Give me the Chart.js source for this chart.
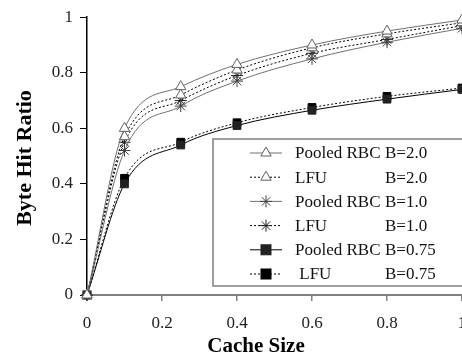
<!DOCTYPE html>
<html><head><meta charset="utf-8">
<script src="https://cdn.jsdelivr.net/npm/chart.js@4/dist/chart.umd.min.js"></script>
<style>
html,body{margin:0;padding:0;background:#fff;overflow:hidden;width:462px;height:356px;}
#wrap{position:absolute;left:0;top:0;width:480px;height:356px;}
</style></head>
<body><div id="wrap"><canvas id="c" width="480" height="356"></canvas></div>
<script>
const cacheSizes = [0, 0.1, 0.25, 0.4, 0.6, 0.8, 1.0];
const rbc20 = [0, 0.60, 0.75, 0.83, 0.90, 0.95, 0.99];
const lfu20 = [0, 0.57, 0.72, 0.81, 0.89, 0.94, 0.98];
const rbc10 = [0, 0.52, 0.68, 0.77, 0.85, 0.91, 0.96];
const lfu10 = [0, 0.55, 0.70, 0.79, 0.87, 0.92, 0.97];
const rbc075 = [0, 0.40, 0.54, 0.61, 0.665, 0.705, 0.74];
const lfu075 = [0, 0.42, 0.55, 0.62, 0.675, 0.715, 0.745];
const seriesNames = ['Pooled RBC', 'LFU', 'Pooled RBC', 'LFU', 'Pooled RBC', ' LFU'];
const seriesB = ['B=2.0', 'B=2.0', 'B=1.0', 'B=1.0', 'B=0.75', 'B=0.75'];
const xTicks = [0, 0.2, 0.4, 0.6, 0.8, 1];
const yTicks = [0, 0.2, 0.4, 0.6, 0.8, 1];
const xTitle = 'Cache Size';
const yTitle = 'Byte Hit Ratio';

const seriesValues = [rbc20, lfu20, rbc10, lfu10, rbc075, lfu075];
const styles = [
  {c:'#707070', dash:[], m:'tri', mc:'#606060', fill:'#fff'},
  {c:'#000', dash:[2,2], m:'tri', mc:'#606060', fill:'#fff'},
  {c:'#707070', dash:[], m:'star', mc:'#404040', fill:'#fff'},
  {c:'#000', dash:[2,2], m:'star', mc:'#202020', fill:'#fff'},
  {c:'#000', dash:[], m:'sq', mc:'#222', fill:'#222'},
  {c:'#000', dash:[2,2], m:'sq', mc:'#000', fill:'#000'}
];
const psMap = {tri:'triangle', star:'star', sq:'rect'};
const radMap = {tri:6, star:6, sq:5.5};
const SERIF = '"Liberation Serif", "Times New Roman", serif';

const datasets = seriesValues.map((vals, i) => ({
  label: seriesNames[i] + ' ' + seriesB[i],
  data: vals.map((v, j) => ({x: cacheSizes[j], y: v})),
  borderColor: styles[i].c,
  borderWidth: 1,
  borderDash: styles[i].dash,
  pointStyle: psMap[styles[i].m],
  pointRadius: radMap[styles[i].m],
  pointBorderColor: styles[i].mc,
  pointBackgroundColor: styles[i].fill,
  pointBorderWidth: 1,
  cubicInterpolationMode: 'monotone',
  clip: false
}));

function drawMarker(ctx, m, x, y, st) {
  ctx.save();
  ctx.setLineDash([]);
  ctx.lineWidth = 1;
  ctx.strokeStyle = st.mc;
  ctx.fillStyle = st.fill;
  if (m === 'tri') {
    const r = 6;
    ctx.beginPath();
    ctx.moveTo(x, y - r);
    ctx.lineTo(x + r * 0.866, y + r * 0.5);
    ctx.lineTo(x - r * 0.866, y + r * 0.5);
    ctx.closePath();
    ctx.fill(); ctx.stroke();
  } else if (m === 'star') {
    const r = 6;
    ctx.beginPath();
    ctx.moveTo(x - r, y); ctx.lineTo(x + r, y);
    ctx.moveTo(x, y - r); ctx.lineTo(x, y + r);
    ctx.moveTo(x - r*0.7, y - r*0.7); ctx.lineTo(x + r*0.7, y + r*0.7);
    ctx.moveTo(x - r*0.7, y + r*0.7); ctx.lineTo(x + r*0.7, y - r*0.7);
    ctx.stroke();
  } else {
    const s = 5;
    ctx.fillRect(x - s, y - s, 2*s, 2*s);
    ctx.strokeRect(x - s, y - s, 2*s, 2*s);
  }
  ctx.restore();
}

const overlay = {
  id: 'overlay',
  afterDatasetsDraw(chart) {
    const ctx = chart.ctx;
    ctx.save();
    ctx.fillStyle = '#fff';
    ctx.fillRect(213, 139, 270, 147);
    ctx.strokeStyle = '#808080';
    ctx.lineWidth = 1.5;
    ctx.strokeRect(213, 139, 270, 147);
    ctx.font = '17px ' + SERIF;
    ctx.textBaseline = 'middle';
    for (let i = 0; i < seriesNames.length; i++) {
      const y = 153 + i * 24.2;
      const st = styles[i];
      ctx.save();
      ctx.strokeStyle = st.c;
      ctx.lineWidth = 1;
      ctx.setLineDash(st.dash);
      ctx.beginPath(); ctx.moveTo(250, y); ctx.lineTo(282, y); ctx.stroke();
      ctx.restore();
      drawMarker(ctx, st.m, 266, y, st);
      ctx.fillStyle = '#111';
      ctx.textAlign = 'left';
      ctx.fillText(seriesNames[i], 295, y + 1);
      ctx.fillText(seriesB[i], 385, y + 1);
    }
    ctx.fillStyle = '#000';
    ctx.font = 'bold 21px ' + SERIF;
    ctx.textAlign = 'center';
    ctx.textBaseline = 'alphabetic';
    ctx.fillText(xTitle, 256, 352);
    ctx.translate(31, 158);
    ctx.rotate(-Math.PI / 2);
    ctx.font = 'bold 22px ' + SERIF;
    ctx.fillText(yTitle, 0, 0);
    ctx.restore();
  }
};

const fmt = v => String(v);

new Chart(document.getElementById('c'), {
  type: 'line',
  data: {datasets},
  options: {
    responsive: false,
    animation: false,
    layout: {padding: {top: 15, right: 18, left: 0, bottom: 0}},
    plugins: {legend: {display: false}, tooltip: {enabled: false}},
    scales: {
      x: {
        type: 'linear', min: 0, max: 1,
        afterFit(s) { s.height = 61; },
        afterBuildTicks(s) { s.ticks = xTicks.map(v => ({value: v})); },
        border: {color: '#808080', width: 2},
        grid: {drawOnChartArea: false, drawTicks: true, tickLength: 6, color: '#808080', lineWidth: 1.5},
        ticks: {color: '#222', padding: 12, callback: fmt, font: {family: SERIF, size: 17}, maxRotation: 0}
      },
      y: {
        type: 'linear', min: 0, max: 1,
        afterFit(s) { s.width = 87; },
        afterBuildTicks(s) { s.ticks = yTicks.map(v => ({value: v})); },
        border: {color: '#000', width: 1.5},
        grid: {drawOnChartArea: false, drawTicks: true, tickLength: 7, color: '#000', lineWidth: 1},
        ticks: {color: '#222', padding: 7, callback: fmt, font: {family: SERIF, size: 17}}
      }
    }
  },
  plugins: [overlay]
});
</script></body></html>
